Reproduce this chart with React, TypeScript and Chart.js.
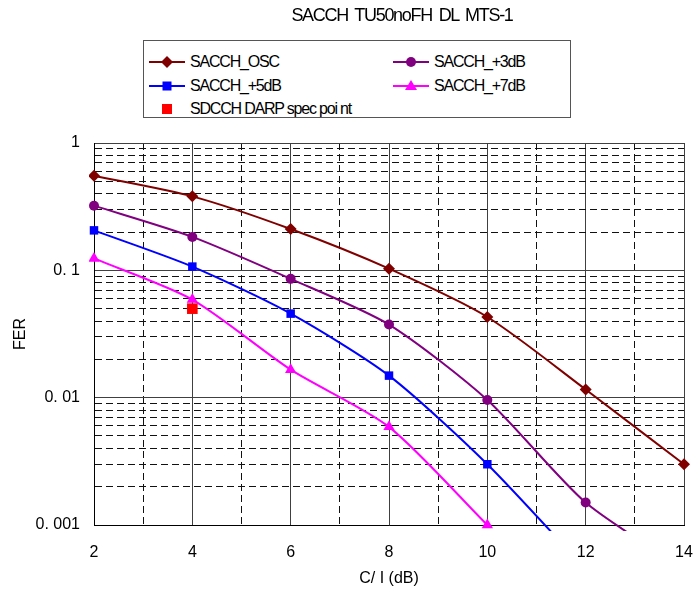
import React, { useEffect, useRef } from 'react';
import { Chart, registerables } from 'chart.js';

Chart.register(...registerables);

// ---- data ----
const chartTitle = 'SACCH TU50noFH DL MTS-1';
const xAxisTitle = 'C/ I (dB)';
const yAxisTitle = 'FER';

const oscX = [2, 4, 6, 8, 10, 12, 14, 16];
const oscY = [0.553, 0.381, 0.211, 0.103, 0.043, 0.0116, 0.003, 0.0008];

const plus3X = [2, 4, 6, 8, 10, 12, 14];
const plus3Y = [0.322, 0.183, 0.0857, 0.0375, 0.0096, 0.0015, 0.00045];

const plus5X = [2, 4, 6, 8, 10, 12];
const plus5Y = [0.206, 0.107, 0.0457, 0.0149, 0.003, 0.00045];

const plus7X = [2, 4, 6, 8, 10];
const plus7Y = [0.124, 0.0589, 0.0166, 0.0059, 0.001];

const specX = [4];
const specY = [0.05];

const seriesLabels = ['SACCH_OSC', 'SACCH_+3dB', 'SACCH_+5dB', 'SACCH_+7dB', 'SDCCH DARP spec poi nt'];

const xTickValues = [2, 3, 4, 5, 6, 7, 8, 9, 10, 11, 12, 13, 14];
const xTickLabels = ['2', '', '4', '', '6', '', '8', '', '10', '', '12', '', '14'];

const yDecades = [0.001, 0.01, 0.1, 1];
const yDecadeLabels = ['0. 001', '0. 01', '0. 1', '1'];

// ---- styles ----
const FONT = "'Liberation Sans', Arial, sans-serif";
const colors = ['#800000', '#800080', '#0000FF', '#FF00FF', '#FF0000'];
const pointStyles = ['rectRot', 'circle', 'rect', 'triangle', 'rect'];
const pointRadii = [6, 5, 6, 6.5, 7.5];

const pts = (xs: number[], ys: number[]) => xs.map((x, i) => ({ x, y: ys[i] }));

const isDecade = (v: number) => Math.abs(Math.log10(v) - Math.round(Math.log10(v))) < 1e-6;

function LegendMarker({ idx, line }: { idx: number; line: boolean }) {
  const c = colors[idx];
  const st = pointStyles[idx];
  const cx = 18;
  const cy = 7;
  let marker: React.ReactNode = null;
  if (st === 'rectRot') marker = <polygon points={`${cx},${cy - 6} ${cx + 6},${cy} ${cx},${cy + 6} ${cx - 6},${cy}`} fill={c} />;
  else if (st === 'circle') marker = <circle cx={cx} cy={cy} r={5} fill={c} />;
  else if (st === 'triangle') marker = <polygon points={`${cx},${cy - 6} ${cx + 6},${cy + 4} ${cx - 6},${cy + 4}`} fill={c} />;
  else if (idx === 4) marker = <rect x={cx - 5} y={cy - 5} width={10} height={10} fill={c} />;
  else marker = <rect x={cx - 4.5} y={cy - 4.5} width={9} height={9} fill={c} />;
  return (
    <svg width={36} height={14} style={{ display: 'block' }}>
      {line && <line x1={0} y1={cy} x2={36} y2={cy} stroke={c} strokeWidth={2} />}
      {marker}
    </svg>
  );
}

const legendLayout = [
  { left: 5, top: 13 },
  { left: 249, top: 13 },
  { left: 5, top: 37 },
  { left: 249, top: 37 },
  { left: 5, top: 60 },
];

export default function App() {
  const canvasRef = useRef<HTMLCanvasElement | null>(null);

  useEffect(() => {
    if (!canvasRef.current) return;
    const xs = [oscX, plus3X, plus5X, plus7X, specX];
    const ys = [oscY, plus3Y, plus5Y, plus7Y, specY];
    const datasets = xs.map((x, i) => ({
      label: seriesLabels[i],
      data: pts(x, ys[i]),
      borderColor: colors[i],
      backgroundColor: colors[i],
      pointBackgroundColor: colors[i],
      pointBorderColor: colors[i],
      pointBorderWidth: 0,
      pointStyle: pointStyles[i],
      pointRadius: pointRadii[i],
      borderWidth: 2,
      tension: 0.25,
      showLine: i !== 4,
      order: i === 4 ? -1 : i,
      clip: { left: 5, top: 5, right: 20, bottom: 6 },
    }));

    const chart = new Chart(canvasRef.current, {
      type: 'line',
      data: { datasets: datasets as any },
      options: {
        responsive: false,
        animation: false,
        devicePixelRatio: 1,
        layout: { padding: { top: 143, right: 10, bottom: 0, left: 0 } },
        plugins: { legend: { display: false }, tooltip: { enabled: false }, title: { display: false } },
        scales: {
          x: {
            type: 'linear',
            min: 2,
            max: 14,
            afterBuildTicks: (scale: any) => {
              scale.ticks = xTickValues.map((v) => ({ value: v }));
            },
            afterFit: (scale: any) => {
              scale.height = 69;
            },
            ticks: {
              autoSkip: false,
              maxRotation: 0,
              padding: 0,
              color: '#000',
              font: { family: FONT, size: 16 },
              callback: (v: any) => {
                const k = xTickValues.indexOf(Number(v));
                return k >= 0 ? xTickLabels[k] : '';
              },
            },
            grid: {
              drawTicks: true,
              tickLength: 18,
              tickColor: 'rgba(0,0,0,0)',
              color: (ctx: any) => (ctx.tick && ctx.tick.value % 2 !== 0 ? '#111' : '#404040'),
              lineWidth: 1,
            },
            border: {
              display: true,
              color: '#000',
              width: 1,
              dash: (ctx: any) => (ctx.tick && ctx.tick.value % 2 !== 0 ? [7, 4] : []),
            } as any,
            title: {
              display: true,
              text: xAxisTitle,
              color: '#000',
              font: { family: FONT, size: 16 },
              padding: { top: 0, bottom: 6 },
            },
          },
          y: {
            type: 'logarithmic',
            min: 0.001,
            max: 1,
            afterBuildTicks: (scale: any) => {
              const t: { value: number }[] = [];
              for (let d = 0; d < yDecades.length - 1; d++) {
                for (let m = 1; m <= 9; m++) t.push({ value: +(yDecades[d] * m).toPrecision(6) });
              }
              t.push({ value: 1 });
              scale.ticks = t;
            },
            afterFit: (scale: any) => {
              scale.width = 94;
            },
            ticks: {
              autoSkip: false,
              padding: 14,
              color: '#000',
              font: { family: FONT, size: 16 },
              callback: (v: any) => {
                const n = Number(v);
                if (!isDecade(n)) return '';
                const k = yDecades.findIndex((d) => Math.abs(Math.log10(d) - Math.log10(n)) < 1e-6);
                return k >= 0 ? yDecadeLabels[k] : '';
              },
            },
            grid: {
              drawTicks: false,
              color: (ctx: any) => (ctx.tick && !isDecade(ctx.tick.value) ? '#111' : '#404040'),
              lineWidth: 1,
            },
            border: {
              display: true,
              color: '#000',
              width: 1,
              dash: (ctx: any) => (ctx.tick && !isDecade(ctx.tick.value) ? [7, 4] : []),
            } as any,
            title: {
              display: true,
              text: yAxisTitle,
              color: '#000',
              font: { family: FONT, size: 16 },
              padding: { top: 11, bottom: 0 },
            },
          },
        },
      } as any,
    });
    return () => chart.destroy();
  }, []);

  return (
    <div style={{ position: 'fixed', left: 0, top: 0, width: 694, height: 594, background: '#fff', overflow: 'hidden' }}>
      <canvas ref={canvasRef} width={694} height={594} style={{ position: 'absolute', left: 0, top: 0 }} />
      <div
        style={{
          position: 'absolute',
          left: 402,
          top: 5,
          transform: 'translateX(-50%)',
          whiteSpace: 'nowrap',
          fontFamily: FONT,
          fontSize: 18,
          lineHeight: '20px',
          letterSpacing: '-1.3px',
          wordSpacing: '3px',
          color: '#000',
        }}
      >
        {chartTitle}
      </div>
      <div
        style={{
          position: 'absolute',
          left: 143,
          top: 40,
          width: 426,
          height: 76,
          border: '1px solid #555',
          background: '#fff',
        }}
      >
        {seriesLabels.map((lab, i) => (
          <div
            key={lab}
            style={{
              position: 'absolute',
              left: legendLayout[i].left,
              top: legendLayout[i].top,
              display: 'flex',
              alignItems: 'center',
              whiteSpace: 'nowrap',
              fontFamily: FONT,
              fontSize: 16,
              lineHeight: '16px',
              letterSpacing: '-1.2px',
              color: '#000',
            }}
          >
            <LegendMarker idx={i} line={i !== 4} />
            <span style={{ marginLeft: 5 }}>{lab}</span>
          </div>
        ))}
      </div>
    </div>
  );
}
